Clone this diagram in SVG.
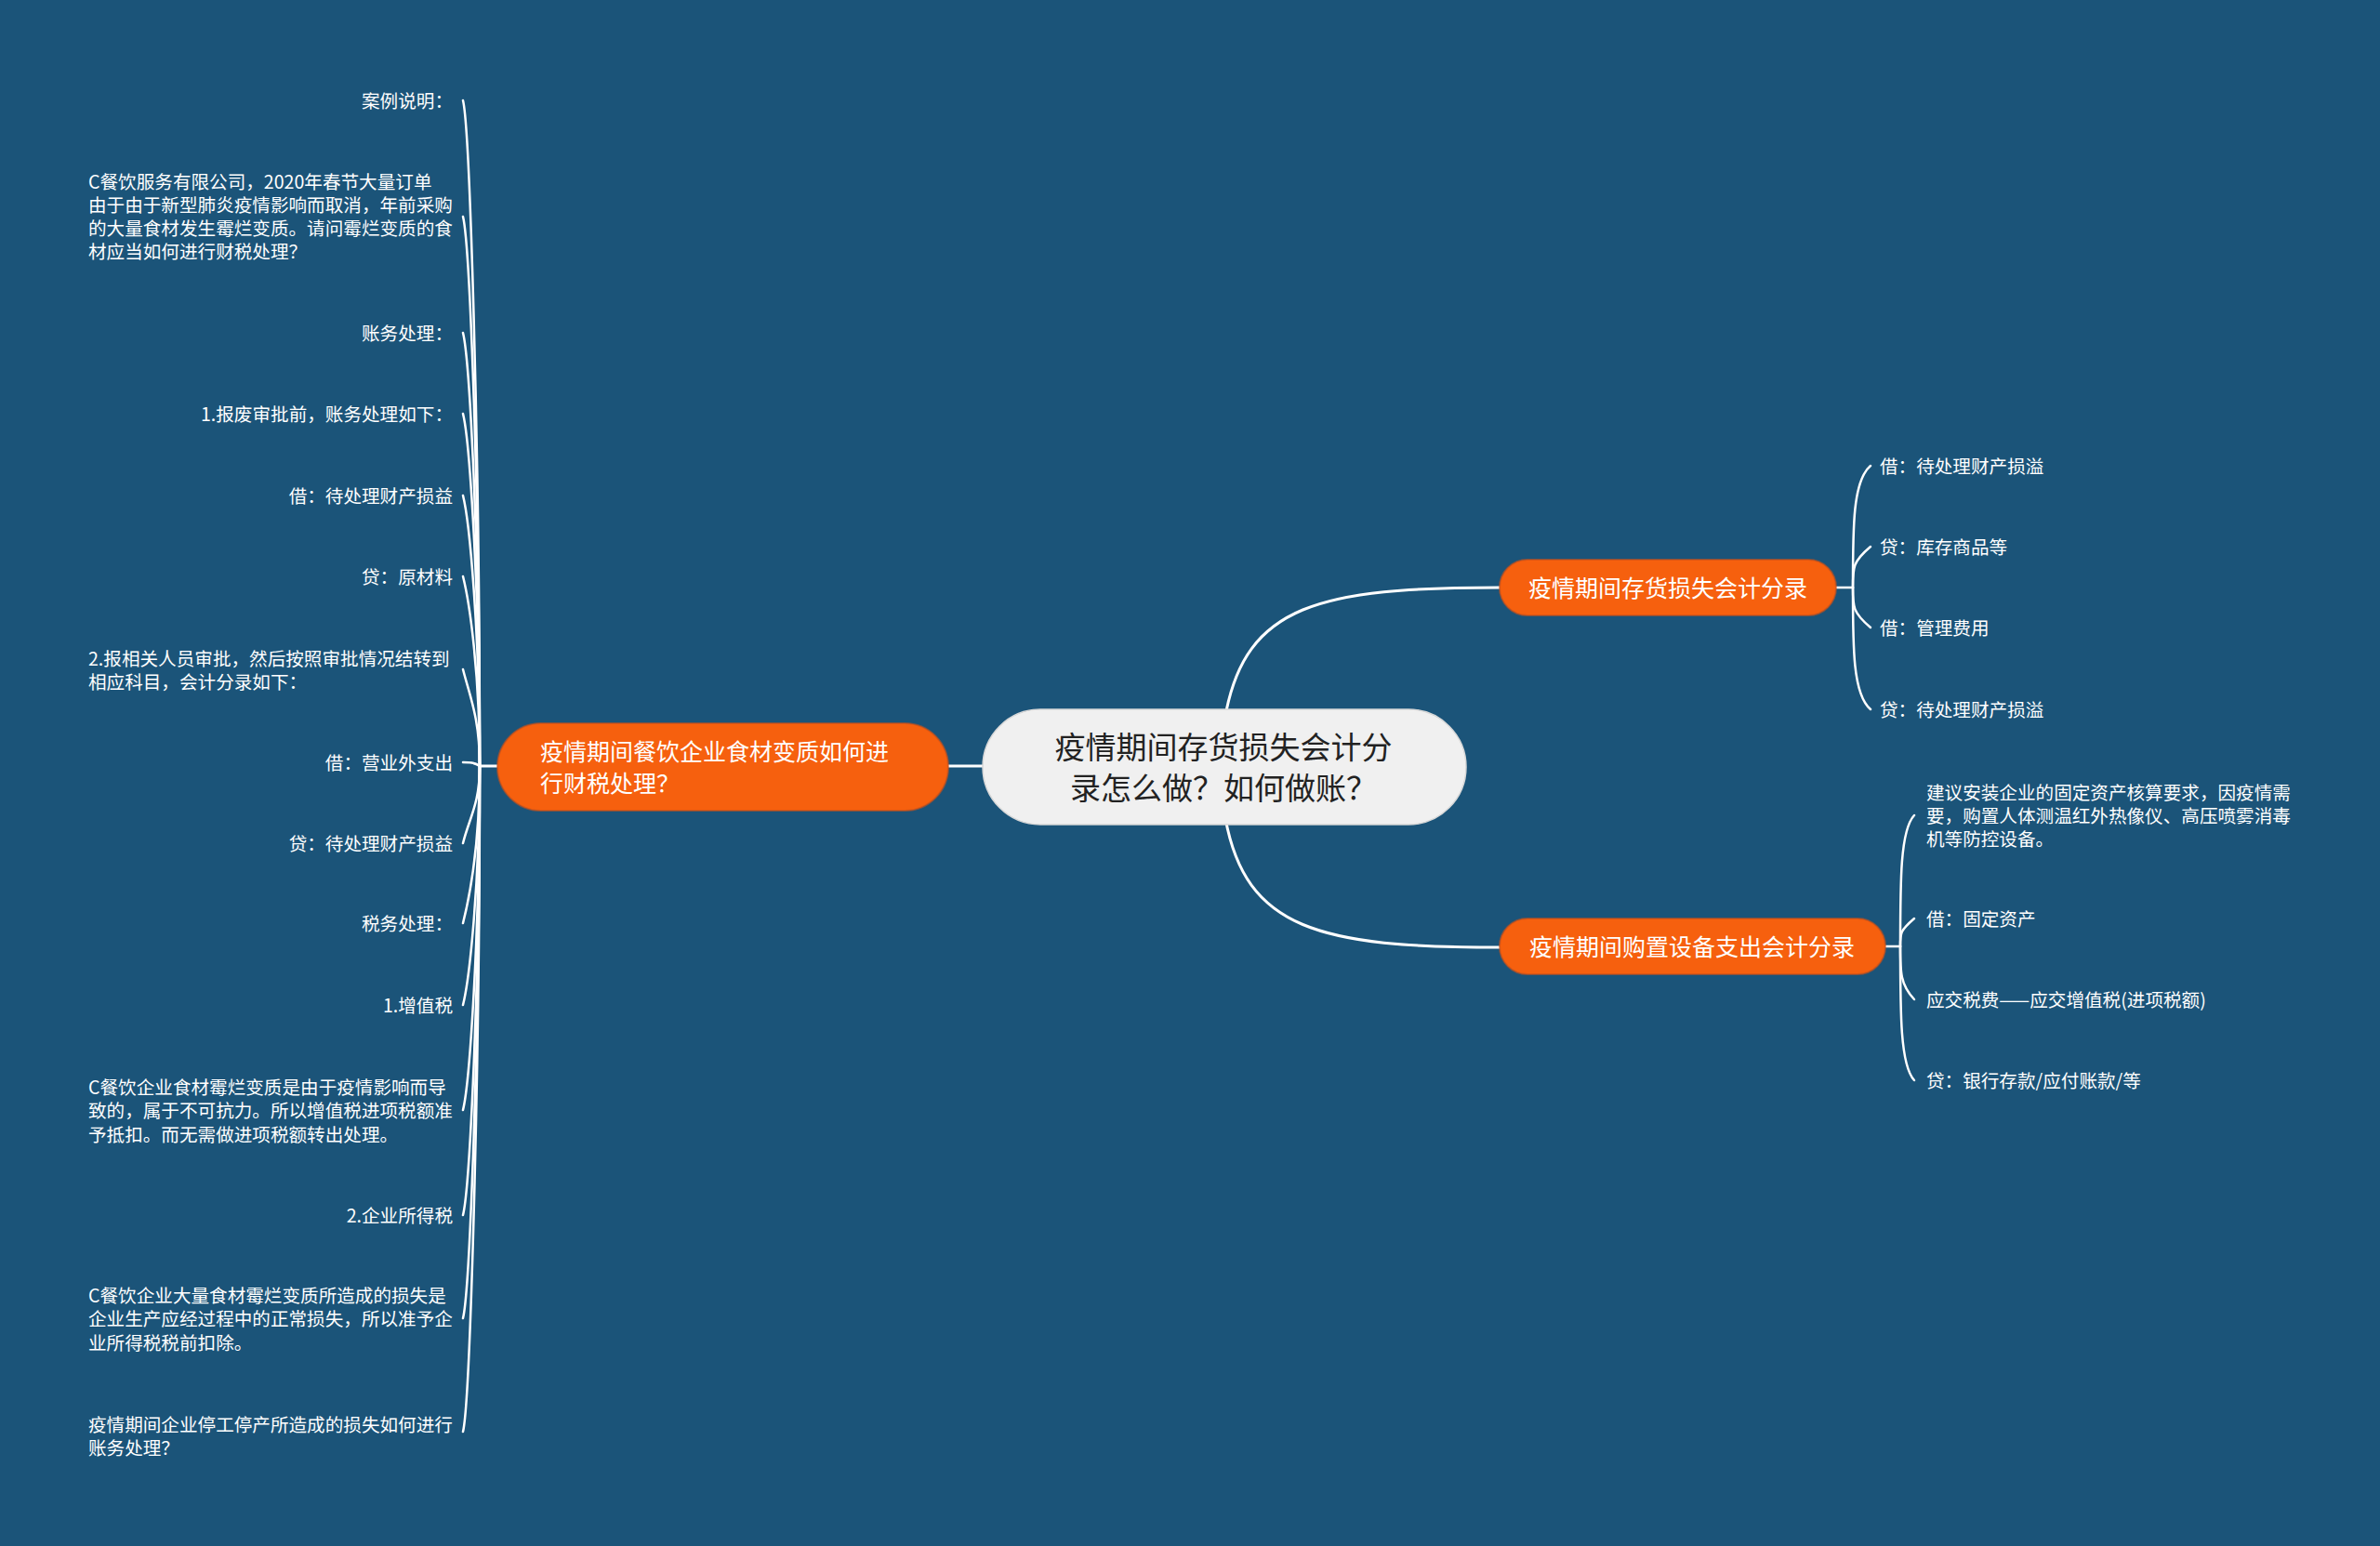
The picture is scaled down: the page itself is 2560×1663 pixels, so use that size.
<svg xmlns="http://www.w3.org/2000/svg" width="2560" height="1663" viewBox="0 0 2560 1663">
<style>
text{font-family:"Noto Sans CJK SC","Noto Sans",sans-serif;}
.leaf{font-size:19.6px;fill:#ffffff;}
.end{text-anchor:end;}
.main{font-size:25px;fill:#ffffff;}
.mid{text-anchor:middle;}
.root{font-size:33px;fill:#222222;text-anchor:middle;}
.orange{fill:#f6600e;stroke:#c8501a;stroke-opacity:0.6;stroke-width:2;}
.lk{fill:none;stroke:#ffffff;stroke-width:2.5;stroke-linecap:round;}
.lk3{fill:none;stroke:#ffffff;stroke-width:3;stroke-linecap:round;}
</style>
<rect x="0" y="0" width="2560" height="1663" fill="#1b5479"/>
<g id="connectors">
  <path class="lk3" d="M1318,770 C1340,650 1420,632 1613,632"/>
  <path class="lk3" d="M1318,880 C1340,1000 1420,1019 1613,1019"/>
  <path class="lk3" d="M1020,824 H1060"/>
  <path class="lk3" d="M516,824 H537"/>
  <path class="lk" d="M516,824 C516,466 505,136 498,108"/>
  <path class="lk" d="M516,824 C516,528 505,261 498,233"/>
  <path class="lk" d="M516,824 C516,591 505,386 498,358"/>
  <path class="lk" d="M516,824 C516,634 505,473 498,445"/>
  <path class="lk" d="M516,824 C516,678 505,561 498,533"/>
  <path class="lk" d="M516,824 C516,722 505,648 498,620"/>
  <path class="lk" d="M516,824 C516,772 505,748 498,720"/>
  <path class="lk" d="M516,824 C510,820 505,820 498,820"/>
  <path class="lk" d="M516,824 C516,865 505,879 498,907"/>
  <path class="lk" d="M516,824 C516,908 505,965 498,993"/>
  <path class="lk" d="M516,824 C516,952 505,1053 498,1081"/>
  <path class="lk" d="M516,824 C516,1009 505,1166 498,1194"/>
  <path class="lk" d="M516,824 C516,1065 505,1279 498,1307"/>
  <path class="lk" d="M516,824 C516,1121 505,1390 498,1418"/>
  <path class="lk" d="M516,824 C516,1182 505,1512 498,1540"/>
  <path class="lk" d="M1973,632 H1993"/>
  <path class="lk" d="M1993,632 C1993,566 1993,517 2012,501"/>
  <path class="lk" d="M1993,632 C1993,610 1993,604 2012,588"/>
  <path class="lk" d="M1993,632 C1993,653 1993,659 2012,675"/>
  <path class="lk" d="M1993,632 C1993,697 1993,747 2012,763"/>
  <path class="lk" d="M2026,1018 H2044"/>
  <path class="lk" d="M2044,1018 C2044,947 2044,893 2059,877"/>
  <path class="lk" d="M2044,1018 C2044,1003 2044,1001 2059,988"/>
  <path class="lk" d="M2044,1018 C2044,1046 2044,1059 2059,1075"/>
  <path class="lk" d="M2044,1018 C2044,1090 2044,1146 2059,1162"/>
</g>
<g id="root">
  <rect x="1057" y="763" width="520" height="124" rx="62" fill="#f0f0f0" stroke="#d8d8d8" stroke-width="1.5"/>
  <text class="root" x="1316" y="815.5">疫情期间存货损失会计分</text>
  <text class="root" x="1316" y="859.5">录怎么做？如何做账？</text>
</g>
<g id="n-left">
  <rect class="orange" x="535" y="778" width="485" height="94" rx="47"/>
  <text class="main" x="581" y="817.5">疫情期间餐饮企业食材变质如何进</text>
  <text class="main" x="581" y="851.5">行财税处理？</text>
</g>
<g id="n-right1">
  <rect class="orange" x="1613" y="602" width="362" height="60" rx="30"/>
  <text class="main mid" x="1794" y="641.5">疫情期间存货损失会计分录</text>
</g>
<g id="n-right2">
  <rect class="orange" x="1613" y="988" width="415" height="60" rx="30"/>
  <text class="main mid" x="1820" y="1027.5">疫情期间购置设备支出会计分录</text>
</g>
<g id="l1"><text class="leaf end" x="487" y="115.5">案例说明：</text></g>
<g id="l2">
  <text class="leaf" x="95" y="202.5">C餐饮服务有限公司，2020年春节大量订单</text>
  <text class="leaf" x="95" y="227.5">由于由于新型肺炎疫情影响而取消，年前采购</text>
  <text class="leaf" x="95" y="252.5">的大量食材发生霉烂变质。请问霉烂变质的食</text>
  <text class="leaf" x="95" y="277.5">材应当如何进行财税处理？</text>
</g>
<g id="l3"><text class="leaf end" x="487" y="365.5">账务处理：</text></g>
<g id="l4"><text class="leaf end" x="487" y="452.5">1.报废审批前，账务处理如下：</text></g>
<g id="l5"><text class="leaf end" x="487" y="540.5">借：待处理财产损益</text></g>
<g id="l6"><text class="leaf end" x="487" y="627.5">贷：原材料</text></g>
<g id="l7">
  <text class="leaf" x="95" y="715.5">2.报相关人员审批，然后按照审批情况结转到</text>
  <text class="leaf" x="95" y="740.5">相应科目，会计分录如下：</text>
</g>
<g id="l8"><text class="leaf end" x="487" y="827.5">借：营业外支出</text></g>
<g id="l9"><text class="leaf end" x="487" y="914.5">贷：待处理财产损益</text></g>
<g id="l10"><text class="leaf end" x="487" y="1000.5">税务处理：</text></g>
<g id="l11"><text class="leaf end" x="487" y="1088.5">1.增值税</text></g>
<g id="l12">
  <text class="leaf" x="95" y="1176.5">C餐饮企业食材霉烂变质是由于疫情影响而导</text>
  <text class="leaf" x="95" y="1201.5">致的，属于不可抗力。所以增值税进项税额准</text>
  <text class="leaf" x="95" y="1227.5">予抵扣。而无需做进项税额转出处理。</text>
</g>
<g id="l13"><text class="leaf end" x="487" y="1314.5">2.企业所得税</text></g>
<g id="l14">
  <text class="leaf" x="95" y="1400.5">C餐饮企业大量食材霉烂变质所造成的损失是</text>
  <text class="leaf" x="95" y="1425.5">企业生产应经过程中的正常损失，所以准予企</text>
  <text class="leaf" x="95" y="1451.5">业所得税税前扣除。</text>
</g>
<g id="l15">
  <text class="leaf" x="95" y="1539.5">疫情期间企业停工停产所造成的损失如何进行</text>
  <text class="leaf" x="95" y="1564.5">账务处理？</text>
</g>
<g id="r1"><text class="leaf" x="2022" y="508.5">借：待处理财产损溢</text></g>
<g id="r2"><text class="leaf" x="2022" y="595.5">贷：库存商品等</text></g>
<g id="r3"><text class="leaf" x="2022" y="682.5">借：管理费用</text></g>
<g id="r4"><text class="leaf" x="2022" y="770.5">贷：待处理财产损溢</text></g>
<g id="r5">
  <text class="leaf" x="2072" y="859.5">建议安装企业的固定资产核算要求，因疫情需</text>
  <text class="leaf" x="2072" y="884.5">要，购置人体测温红外热像仪、高压喷雾消毒</text>
  <text class="leaf" x="2072" y="909.5">机等防控设备。</text>
</g>
<g id="r6"><text class="leaf" x="2072" y="995.5">借：固定资产</text></g>
<g id="r7"><text class="leaf" x="2072" y="1082.5">应交税费——应交增值税(进项税额)</text></g>
<g id="r8"><text class="leaf" x="2072" y="1169.5">贷：银行存款/应付账款/等</text></g>
</svg>
